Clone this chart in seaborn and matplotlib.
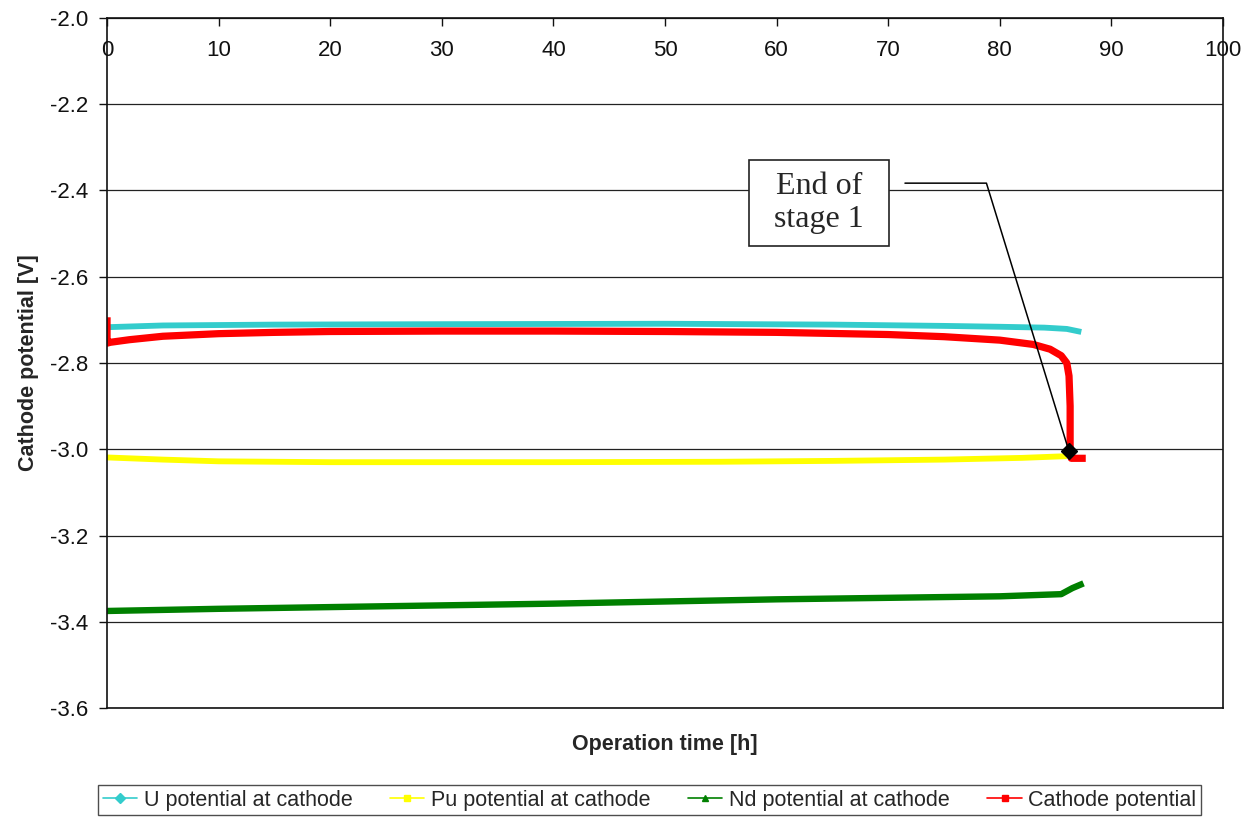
import matplotlib
matplotlib.use("Agg")
import matplotlib.pyplot as plt
from matplotlib.lines import Line2D
from matplotlib.patches import Rectangle
import seaborn as sns
import pandas as pd

# Electrorefining run: cathode potential and equilibrium potentials vs time
u_time = [0, 5, 15, 30, 50, 65, 75, 80, 84, 86, 87.3]
u_pot = [-2.717, -2.713, -2.711, -2.710, -2.709, -2.711, -2.714, -2.716, -2.718, -2.721, -2.728]

pu_time = [0, 5, 10, 20, 40, 55, 65, 75, 82, 86]
pu_pot = [-3.019, -3.024, -3.028, -3.030, -3.030, -3.029, -3.027, -3.024, -3.020, -3.016]

nd_time = [0, 10, 20, 40, 60, 80, 85.5, 86.5, 87.5]
nd_pot = [-3.375, -3.370, -3.366, -3.358, -3.348, -3.341, -3.336, -3.322, -3.311]

cat_time = [0, 0, 0.3, 2, 5, 10, 15, 20, 30, 40, 50, 60, 70, 75, 80, 83, 84.5,
            85.5, 86.0, 86.2, 86.3, 86.3, 86.4, 87.7]
cat_pot = [-2.694, -2.754, -2.752, -2.746, -2.738, -2.732, -2.729, -2.727, -2.726,
           -2.726, -2.727, -2.729, -2.734, -2.739, -2.747, -2.757, -2.768, -2.783,
           -2.800, -2.830, -2.900, -3.000, -3.021, -3.021]

series_labels = ["U potential at cathode", "Pu potential at cathode",
                 "Nd potential at cathode", "Cathode potential"]
x_ticks = list(range(0, 101, 10))
y_ticks = [-2.0, -2.2, -2.4, -2.6, -2.8, -3.0, -3.2, -3.4, -3.6]

# end-of-stage-1 point and its callout leader
stage_end = (86.2, -3.005)
leader_x = [71.5, 78.8, stage_end[0]]
leader_y = [-2.383, -2.383, stage_end[1]]

sns.set_style("white")
plt.rcParams["font.family"] = ["Liberation Sans", "DejaVu Sans"]

fig = plt.figure(figsize=(12.49, 8.17), dpi=100)
ax = fig.add_axes([0.0857, 0.1334, 0.8935, 0.8446])

styles = [
    (u_time, u_pot, "#33CCCC", 4.2, "D"),
    (pu_time, pu_pot, "#FFFF00", 4.2, "s"),
    (nd_time, nd_pot, "#008000", 4.6, "^"),
    (cat_time, cat_pot, "#FF0000", 5.2, "s"),
]
for t, v, c, lw, _ in styles:
    df = pd.DataFrame({"t": t, "v": v})
    sns.lineplot(data=df, x="t", y="v", ax=ax, color=c, linewidth=lw,
                 sort=False, estimator=None, legend=False,
                 solid_joinstyle="round", solid_capstyle="butt")

ax.set_xlim(0, 100)
ax.set_ylim(-3.6, -2.0)
ax.set_yticks(y_ticks)
ax.set_yticklabels([f"{y:.1f}" for y in y_ticks], fontsize=16)
ax.set_xticks(x_ticks)
ax.set_xticklabels([str(x) for x in x_ticks], fontsize=16)
ax.yaxis.grid(True, color="#222222", linewidth=0.9)
ax.xaxis.grid(False)

for side in ["left", "right", "top", "bottom"]:
    ax.spines[side].set_visible(True)
    ax.spines[side].set_color("#111111")
    ax.spines[side].set_linewidth(1.2)

ax.xaxis.set_ticks_position("top")
ax.xaxis.set_label_position("bottom")
ax.tick_params(axis="x", which="major", direction="in", length=6, width=1,
               top=True, bottom=False, labeltop=True, labelbottom=False,
               pad=-31, colors="#111111")
ax.tick_params(axis="y", which="major", direction="out", length=5.8, width=1,
               left=True, colors="#111111", pad=8)

ax.set_xlabel("Operation time [h]", fontsize=15.5, fontweight="bold", labelpad=19)
ax.set_ylabel("Cathode potential [V]", fontsize=15.5, fontweight="bold", labelpad=8)

# callout box with leader line to the end of stage 1
ax.plot(leader_x, leader_y, color="black", linewidth=1.1, zorder=5)
ax.plot([stage_end[0]], [stage_end[1]], marker="D", color="black",
        markersize=8, zorder=6)
ax.add_patch(Rectangle((0.5753, 0.6696), 0.1254, 0.1246, transform=ax.transAxes,
                       facecolor="white", edgecolor="#222222", linewidth=1.2,
                       zorder=5))
ax.text(0.5753 + 0.1254 / 2, 0.6696 + 0.1246 / 2, "End of\nstage 1",
        transform=ax.transAxes, ha="center", va="center", fontsize=23,
        family=["Liberation Serif", "DejaVu Serif"], linespacing=1.2, zorder=6)

handles = [Line2D([0], [0], color=c, linewidth=1.2, marker=m, markersize=5,
                  markerfacecolor=c, markeredgecolor=c)
           for _, _, c, _, m in styles]
leg = fig.legend(handles, series_labels, loc="center", ncol=4,
                 bbox_to_anchor=(0.520, 0.0208), fontsize=15.5, frameon=True,
                 fancybox=False, edgecolor="#222222", handlelength=1.6,
                 handletextpad=0.3, columnspacing=1.75, borderpad=0.2)
leg.get_frame().set_linewidth(1.0)

fig.savefig("out.png", dpi=100, facecolor="white")
